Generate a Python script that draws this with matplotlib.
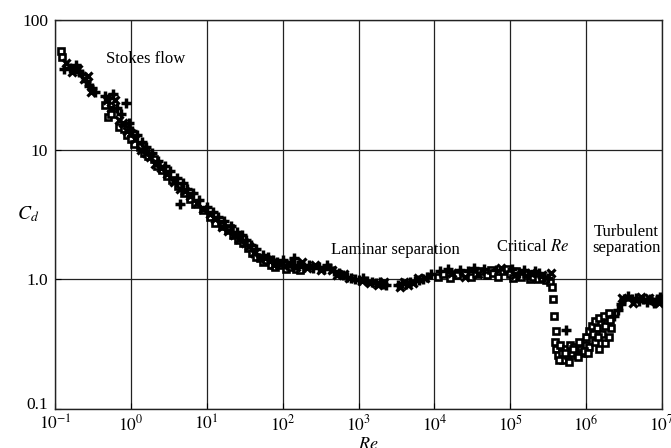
import matplotlib
matplotlib.use("Agg")
import matplotlib.pyplot as plt
import matplotlib.transforms as mtransforms

plt.rcParams['font.family'] = ['Liberation Serif', 'DejaVu Serif']
plt.rcParams['mathtext.fontset'] = 'stix'

# ---- data ----
re_sq = [0.12, 0.125, 0.45, 0.5, 0.55, 0.7, 0.8, 0.9, 1.0, 1.1, 1.3, 1.5, 1.7, 2.0, 2.2, 2.6, 3, 3.5,
         4.2, 5, 6, 7, 9, 11, 13, 16, 19, 22, 20, 26, 30, 35, 40, 45, 50, 55, 60, 70, 80, 90, 110,
         130, 150, 170,
         1.1e4, 1.3e4, 1.6e4, 2e4, 2.5e4, 3e4, 3.5e4, 4e4, 5e4, 5.5e4, 6e4, 7e4, 8e4, 9e4, 1e5,
         1.1e5, 1.2e5, 1.4e5, 1.6e5, 1.8e5, 2e5, 2.3e5, 2.6e5, 3e5, 3.3e5,
         3.6e5, 3.7e5, 3.8e5, 4e5,
         3.9e5, 4e5, 4.2e5, 4.5e5, 4.8e5, 5e5, 5.5e5, 5.8e5, 6.2e5, 6.5e5, 7e5, 7.5e5, 8e5, 8.5e5,
         9e5, 1e6, 1e6, 1.1e6, 1.1e6, 1.2e6, 1.3e6, 1.3e6, 1.4e6, 1.5e6, 1.5e6, 1.6e6, 1.7e6,
         1.8e6, 1.9e6, 2.0e6, 2.0e6, 2.1e6,
         4.4e5, 5.2e5, 6e5, 6.8e5, 7.8e5, 9.5e5, 1.05e6, 1.25e6, 1.45e6, 1.75e6, 2.05e6]
cd_sq = [58, 52, 22, 18, 19, 15, 14.5, 13, 12, 11, 10.5, 9.5, 9, 8.5, 7.5, 7, 6.3, 5.8,
         5.2, 4.6, 4.2, 3.8, 3.4, 3.0, 2.7, 2.6, 2.4, 2.2, 2.5, 2.0, 1.9, 1.75, 1.6, 1.5, 1.45, 1.35,
         1.4, 1.3, 1.25, 1.3, 1.2, 1.25, 1.2, 1.18,
         1.05, 1.1, 1.02, 1.08, 1.12, 1.05, 1.1, 1.15, 1.08, 1.18, 1.12, 1.05, 1.15, 1.2, 1.1,
         1.02, 1.15, 1.05, 1.1, 1.0, 1.05, 1.0, 1.02, 0.98, 0.95,
         0.88, 0.7, 0.52, 0.4,
         0.33, 0.29, 0.26, 0.31, 0.27, 0.24, 0.29, 0.26, 0.31, 0.27, 0.3, 0.26, 0.33, 0.29,
         0.27, 0.31, 0.36, 0.4, 0.3, 0.44, 0.48, 0.33, 0.42, 0.5, 0.29, 0.38, 0.52,
         0.32, 0.46, 0.55, 0.36, 0.42,
         0.24, 0.27, 0.23, 0.29, 0.25, 0.28, 0.27, 0.38, 0.36, 0.44, 0.49]

re_plus = [0.13, 0.16, 0.19, 0.21, 0.23, 0.26, 0.28, 0.31, 0.34, 0.45, 0.52, 0.58, 0.65, 0.75,
           0.85, 0.95, 1.05, 1.2, 1.4, 1.6, 1.9, 2.3, 2.8, 3.3, 4, 4.4, 4.8, 5.5, 6.5, 8, 10, 12,
           14, 17, 21, 25, 29, 33, 38, 45, 55, 65, 75, 85, 100, 115, 130, 140, 160, 190, 220, 250,
           300, 350, 380, 420, 480, 550, 620, 700, 800, 900, 1000, 1150, 1300, 1500, 1700, 1900,
           2100, 2300, 3300, 3700, 4200, 4800, 5500, 6200, 7000, 8000, 9000,
           1.2e4, 1.5e4, 2.2e4, 2.8e4, 3.3e4, 4.5e4, 6.5e4, 1.05e5, 1.3e5, 1.5e5, 1.7e5, 2.1e5,
           2.4e5, 2.8e5, 3.1e5,
           5.4e5, 2.3e6, 2.6e6, 2.9e6, 3.2e6, 3.6e6, 4e6, 4.5e6, 5e6, 5.6e6, 6.3e6, 7e6, 7.8e6,
           8.6e6, 9.5e6, 1e7]
cd_plus = [42, 43, 45, 40, 38, 34, 31, 30, 28, 26, 25, 27, 21, 19,
           23, 16, 14, 13, 11.5, 10.5, 9.5, 8.2, 7.5, 6.8, 6, 3.8, 5.5, 5, 4.6, 4.1, 3.6, 3.3,
           3.0, 2.8, 2.6, 2.3, 2.2, 2.0, 1.85, 1.7, 1.55, 1.5, 1.42, 1.35, 1.4, 1.3, 1.35, 1.45,
           1.3, 1.25, 1.3, 1.22, 1.25, 1.2, 1.28, 1.22, 1.15, 1.12, 1.08, 1.05, 1.03, 1.0, 0.98,
           1.02, 0.97, 0.95, 0.93, 0.95, 0.92, 0.9, 0.9, 0.93, 0.92, 0.95, 0.97, 0.98, 1.0, 1.05,
           1.1,
           1.15, 1.2, 1.18, 1.15, 1.22, 1.2, 1.18, 1.2, 1.12, 1.18, 1.08, 1.15, 1.12, 1.05, 1.02,
           0.41, 0.52, 0.58, 0.65, 0.7, 0.75, 0.7, 0.72, 0.68, 0.7, 0.67, 0.7, 0.66, 0.7, 0.73,
           0.7]

re_x = [0.14, 0.17, 0.2, 0.24, 0.27, 0.3, 0.48, 0.55, 0.62, 0.7, 0.78, 0.88, 1.0, 1.15, 1.35, 1.6,
        1.8, 2.1, 2.5, 3.0, 3.7, 4.5, 5.2, 6, 7.5, 9, 11, 13, 16, 19, 23, 27, 32, 36, 42, 50, 58,
        68, 78, 95, 120, 150, 180, 210, 270, 320, 450, 520, 650, 750, 1100, 1400, 1800, 2200,
        3500, 4000, 4500, 5200, 6000, 7500, 1.7e4, 2.5e4, 3.8e4, 7.5e4, 1.15e5, 1.9e5, 2.6e5,
        3.4e5, 3e6, 4.2e6, 5.3e6, 6.7e6, 8.2e6, 9e6]
cd_x = [47, 40, 42, 35, 37, 28, 24, 21, 24, 17, 16, 14, 13.5, 12, 10, 9.5,
        8.8, 7.8, 7.2, 6.5, 5.6, 5.0, 4.8, 4.4, 3.9, 3.5, 3.2, 2.9, 2.55, 2.35, 2.2, 2.05, 1.9,
        1.8, 1.6, 1.5, 1.45, 1.38, 1.3, 1.32, 1.28, 1.25, 1.35, 1.22, 1.28, 1.18, 1.18, 1.08, 1.1,
        1.02, 0.97, 0.93, 0.9, 0.95, 0.88, 0.95, 0.9, 0.93, 1.02, 1.02, 1.12, 1.05, 1.1, 1.22,
        1.08, 1.12, 1.08, 1.12, 0.72, 0.66, 0.73, 0.72, 0.68, 0.66]

x_ticks = [1e-1, 1e0, 1e1, 1e2, 1e3, 1e4, 1e5, 1e6, 1e7]
x_labels = [r'$10^{-1}$', r'$10^{0}$', r'$10^{1}$', r'$10^{2}$', r'$10^{3}$', r'$10^{4}$',
            r'$10^{5}$', r'$10^{6}$', r'$10^{7}$']
y_ticks = [0.1, 1.0, 10, 100]
y_labels = ['0.1', '1.0', '10', '100']

W, H = 671, 448
fig = plt.figure(figsize=(W / 100, H / 100), dpi=100)
ax = fig.add_axes([55 / W, 1 - 409 / H, 607 / W, 389 / H])
ax.set_xscale('log')
ax.set_yscale('log')
ax.set_xlim(1e-1, 1e7)
ax.set_ylim(0.1, 100)

ax.plot(re_sq, cd_sq, linestyle='none', marker='s', ms=4.8, mfc='white', mec='black', mew=1.9,
        zorder=3)
ax.plot(re_plus, cd_plus, linestyle='none', marker='+', ms=7, mec='black', mew=2.5, zorder=3)
ax.plot(re_x, cd_x, linestyle='none', marker='x', ms=5.5, mec='black', mew=2.3, zorder=3)

ax.set_xticks(x_ticks)
ax.set_xticklabels(x_labels)
ax.set_yticks(y_ticks)
ax.set_yticklabels(y_labels)
ax.minorticks_off()
ax.tick_params(axis='both', direction='in', length=4, width=0.8, labelsize=12.5, colors='black')
ax.tick_params(axis='x', pad=4)
ax.tick_params(axis='y', pad=5)
ax.grid(True, which='major', color='#222222', linewidth=0.9)
for s in ax.spines.values():
    s.set_linewidth(1.0)
    s.set_color('#222222')

# lift the lowest y label slightly, as in the reference
lab0 = ax.get_yticklabels()[0]
lab0.set_transform(lab0.get_transform() + mtransforms.ScaledTranslation(0, 4 / 72, fig.dpi_scale_trans))

fs = 12
fig.text(28 / W, 1 - 214 / H, r'$C_d$', fontsize=14, ha='center', va='center')
fig.text(368 / W, 1 - 444 / H, r'$Re$', fontsize=13, ha='center', va='center')
fig.text(146 / W, 1 - 59 / H, 'Stokes flow', fontsize=fs, ha='center', va='center')
fig.text(395 / W, 1 - 250 / H, 'Laminar separation', fontsize=fs, ha='center', va='center')
fig.text(533 / W, 1 - 247 / H, r'Critical $Re$', fontsize=fs, ha='center', va='center')
fig.text(626 / W, 1 - 240 / H, 'Turbulent\nseparation', fontsize=fs, ha='center', va='center',
         linespacing=1.0)

fig.savefig('out.png', dpi=100)
